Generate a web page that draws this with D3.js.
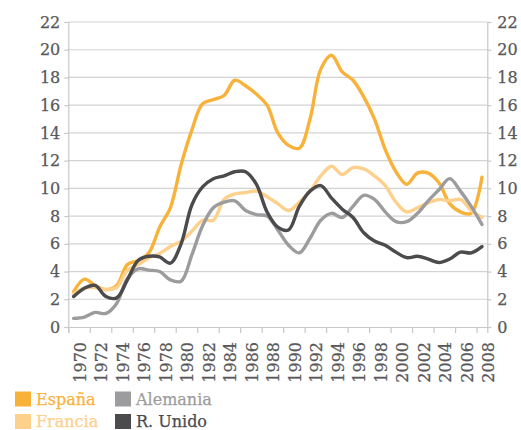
<!DOCTYPE html>
<html>
<head>
<meta charset="utf-8">
<script src="https://cdn.jsdelivr.net/npm/d3@7"></script>
<style>
  html, body { margin: 0; padding: 0; background: #fff; }
  svg { display: block; }
  text { font-family: "DejaVu Serif", serif; }
</style>
</head>
<body>
<svg id="chart" width="521" height="430"></svg>
<script>
// Unemployment rate (%), 1970–2008
const years = d3.range(1970, 2009);
const espana = [2.55, 3.45, 3.0, 2.7, 3.0, 4.5, 4.8, 5.35, 7.2, 8.6,
  11.7, 14.2, 16.1, 16.4, 16.7, 17.8, 17.4, 16.8, 16.0, 14.0,
  13.1, 12.9, 15.0, 18.6, 19.6, 18.4, 17.8, 16.6, 15.0, 12.8,
  11.2, 10.3, 11.1, 11.1, 10.4, 8.9, 8.3, 8.2, 10.8];
const francia = [2.4, 2.8, 2.85, 2.7, 2.85, 4.1, 4.5, 5.0, 5.3, 5.8,
  6.2, 6.9, 7.7, 7.7, 9.2, 9.6, 9.7, 9.8, 9.4, 8.9,
  8.4, 9.0, 9.8, 10.9, 11.6, 11.0, 11.5, 11.4, 10.9, 10.2,
  9.0, 8.3, 8.6, 8.95, 9.2, 9.1, 9.2, 8.4, 7.9];
const alemania = [0.62, 0.72, 1.05, 0.98, 1.7, 3.5, 4.2, 4.1, 4.0, 3.4,
  3.3, 5.2, 7.3, 8.6, 9.0, 9.1, 8.4, 8.1, 8.0, 7.0,
  5.9, 5.35, 6.4, 7.7, 8.2, 7.9, 8.7, 9.5, 9.2, 8.3,
  7.6, 7.6, 8.2, 9.1, 9.9, 10.7, 9.8, 8.7, 7.4];
const reinoUnido = [2.2, 2.8, 3.0, 2.2, 2.1, 3.4, 4.8, 5.1, 5.05, 4.6,
  6.0, 8.8, 10.1, 10.7, 10.9, 11.2, 11.2, 10.3, 8.3, 7.2,
  7.0, 8.7, 9.8, 10.2, 9.3, 8.5, 7.9, 6.8, 6.2, 5.9,
  5.4, 5.0, 5.1, 4.9, 4.65, 4.9, 5.4, 5.35, 5.8];
const yTicks = d3.range(0, 23, 2);
const xTickYears = d3.range(1970, 2009, 2);

const series = [
  { name: "España",   values: espana,     color: "#F8B23A" },
  { name: "Francia",  values: francia,    color: "#FDD08C" },
  { name: "Alemania", values: alemania,   color: "#9C9C9E" },
  { name: "R. Unido", values: reinoUnido, color: "#4B4B4D" }
];

const svg = d3.select("#chart");
const plotLeft = 68.3, plotRight = 487.3, plotTop = 22, plotBottom = 327;

const x = d3.scaleLinear().domain([1970, 2009]).range([plotLeft, plotRight]);
const y = d3.scaleLinear().domain([0, 22]).range([plotBottom, plotTop]);

const axisColor = "#C8C8C8";
const labelColor = "#58585A";

// horizontal gridlines
svg.append("g")
  .selectAll("line")
  .data(yTicks.filter(d => d > 0))
  .join("line")
  .attr("x1", plotLeft).attr("x2", plotRight)
  .attr("y1", d => y(d)).attr("y2", d => y(d))
  .attr("stroke", "#D3D3D3").attr("stroke-width", 1.2);

// left axis
const gl = svg.append("g").attr("transform", `translate(${plotLeft},0)`)
  .call(d3.axisLeft(y).tickValues(yTicks).tickSize(4).tickPadding(4));
// right axis
const gr = svg.append("g").attr("transform", `translate(${plotRight},0)`)
  .call(d3.axisRight(y).tickValues(yTicks).tickSize(4).tickPadding(6));
// bottom axis (ticks only, labels drawn separately)
const gb = svg.append("g").attr("transform", `translate(0,${plotBottom})`)
  .call(d3.axisBottom(x).tickValues(xTickYears).tickSize(6).tickFormat(""));

[gl, gr, gb].forEach(g => {
  g.select(".domain").attr("stroke", axisColor).attr("stroke-width", 1.2);
  g.selectAll(".tick line").attr("stroke", axisColor).attr("stroke-width", 1.2);
  g.selectAll(".tick text").attr("fill", labelColor)
    .attr("stroke", labelColor).attr("stroke-width", 0.25)
    .style("font-family", "DejaVu Serif").style("font-size", "16px");
});

// year labels, rotated, centred on each two-year span
svg.append("g")
  .selectAll("text")
  .data(xTickYears)
  .join("text")
  .attr("transform", d => `translate(${x(d + 1) + 1},${plotBottom + 15}) rotate(-90)`)
  .attr("text-anchor", "end")
  .attr("dy", "0.36em")
  .attr("fill", labelColor)
  .attr("stroke", labelColor).attr("stroke-width", 0.25)
  .style("font-size", "16px")
  .text(d => d);

// series lines
const line = d3.line()
  .x((d, i) => x(years[i] + 0.5))
  .y(d => y(d))
  .curve(d3.curveCatmullRom.alpha(0.5));

svg.append("g")
  .selectAll("path")
  .data(series)
  .join("path")
  .attr("d", s => line(s.values))
  .attr("fill", "none")
  .attr("stroke", s => s.color)
  .attr("stroke-width", 3.4)
  .attr("stroke-linejoin", "round")
  .attr("stroke-linecap", "round");

// legend, two columns
const legendPos = [
  { col: 0, row: 0 }, { col: 0, row: 1 }, { col: 1, row: 0 }, { col: 1, row: 1 }
];
const lg = svg.append("g");
series.forEach((s, i) => {
  const p = legendPos[i];
  const lx = 15 + p.col * 100;
  const ly = 391.5 + p.row * 22.5;
  lg.append("rect")
    .attr("x", lx).attr("y", ly).attr("width", 16).attr("height", 15)
    .attr("fill", s.color);
  lg.append("text")
    .attr("x", lx + 21).attr("y", ly + 13)
    .attr("fill", s.color)
    .attr("stroke", s.color).attr("stroke-width", 0.25)
    .style("font-size", "16px")
    .text(s.name);
});
</script>
</body>
</html>
